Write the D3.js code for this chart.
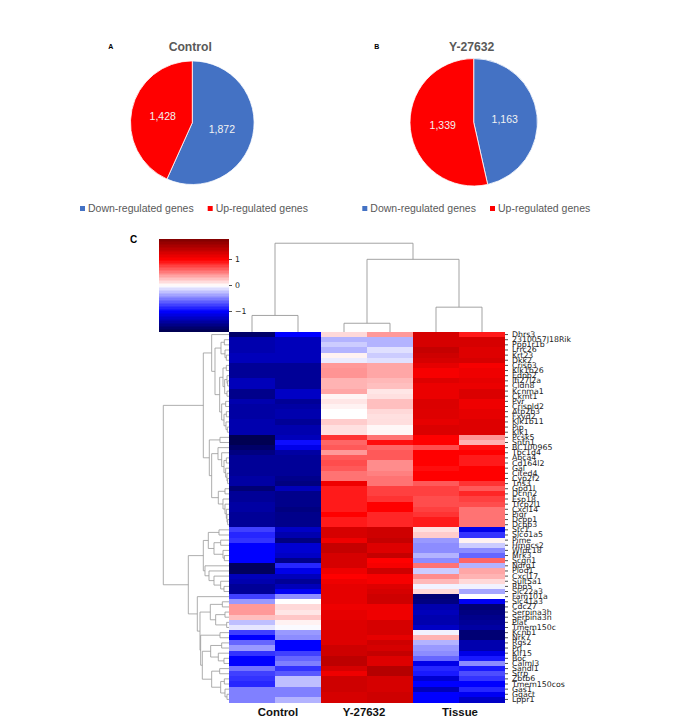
<!DOCTYPE html>
<html><head><meta charset="utf-8">
<script src="https://cdn.jsdelivr.net/npm/d3@7/dist/d3.min.js"></script>
<style>html,body{margin:0;padding:0;background:#fff}svg{display:block}</style>
</head><body><svg id="c" width="689" height="725"></svg>
<script>
const pieNames = ["Down-regulated genes", "Up-regulated genes"];
const pieColors = ["#4472C4", "#FF0000"];
const controlPie = [1872, 1428];
const y27632Pie = [1163, 1339];
const sampleLabels = ["Control", "Y-27632", "Tissue"];
const geneLabels = ["Dhrs3","2310057J18Rik","Ppp1r1b","Lrrc26","Krt23","Dkk2","Crisp3","Klk1b26","Edpb2","Ifi27l2a","Cldn8","Kcnma1","Ckmt1","Pvr","Crispld2","Atp2b3","Fxyd2","Klk1b11","Pip","Klk1","Pcsk5","Sntn1","BC100965","Tbc1d4","Abca4","Cd164l2","Gal","Cited4","Cyp2f2","Tns3","Gpd1l","Dcnn2","Esp18","Tfcp2l1","Cxcl14","Pigr","Dcpp1","Dcpp3","Stc1","Slco1a5","Pime","Hmgcs2","Wfdc18","Mrk3","Scgn1","Ndrg1","Plod1","Cxcl17","Sult5a1","Rbp5","Slc22a3","Fam101a","Slc41a3","Cdc27","Serpina3h","Serpina3n","Plat","Tmem150c","Kcnh1","Nrk7","Rgs2","Prl","Klf15","Boc","Calml3","Sandl1","Srrp","Zbtb6","Tmem150cos","Gas1","Ggact","Lppr1"];
const control1 = [-1.65,-1.35,-1.35,-1.35,-1.3,-1.3,-1.45,-1.45,-1.45,-1.3,-1.3,-1.5,-1.5,-1.35,-1.4,-1.4,-1.4,-1.35,-1.35,-1.35,-1.75,-1.75,-1.65,-1.55,-1.45,-1.45,-1.45,-1.45,-1.4,-1.4,-1.6,-1.45,-1.45,-1.4,-1.4,-1.45,-1.45,-1.45,-0.75,-0.85,-0.8,-1,-1,-1,-1,-1.7,-1.7,-1.3,-1.35,-1.45,-1.45,-0.75,-0.4,0.4,0.4,0.25,-0.25,-0.1,-0.75,-1,-0.6,-0.4,-0.8,-1,-1,-0.55,-0.75,-0.8,-0.85,-0.5,-0.5,-0.5];
const control2 = [-1,-1.3,-1.3,-1.3,-1.3,-1.3,-1.45,-1.45,-1.45,-1.45,-1.45,-1.25,-1.25,-1.45,-1.4,-1.35,-1.35,-1.45,-1.35,-1.35,-1.3,-0.95,-1.1,-1.4,-1.45,-1.45,-1.45,-1.45,-1.5,-1.55,-1.3,-1.5,-1.5,-1.5,-1.55,-1.5,-1.5,-1.5,-1.25,-1.35,-1.55,-1.2,-1.2,-1.25,-1.5,-0.85,-1.1,-1.3,-1.45,-1.3,-1.05,-0.45,0,0.15,0.1,0.22,0.05,-0.02,-0.4,-0.45,-1,-1,-0.75,-0.6,-0.5,-0.8,-0.65,-0.25,-0.25,-0.5,-0.5,-0.3];
const y276321 = [0.15,-0.3,-0.2,-0.3,0.05,-0.08,0.4,0.42,0.42,0.3,0.3,0.35,0.04,0.1,0.05,0,0,0.2,0.12,0.12,0.8,0.6,0.65,0.4,0.65,0.7,0.65,0.55,0.55,1.1,0.9,0.9,0.9,0.9,0.9,1,0.9,0.9,1.25,1.25,1.1,1.35,1.35,1.25,1.25,1.25,1.1,1,1.1,1.15,1.15,1.15,1.15,1.1,1.15,1.15,1.2,1.2,1.2,1.2,1.2,1.3,1.3,1.4,1.4,1.25,1.1,1.3,1.3,1.3,1.25,1.25];
const y276322 = [0.4,-0.3,-0.3,-0.12,-0.2,-0.12,0.35,0.35,0.35,0.28,0.25,0.1,0.12,0.25,0.25,0.15,0.12,0.13,0.03,0.03,0.55,0.95,0.6,0.65,0.65,0.45,0.45,0.5,0.55,0.55,0.75,0.75,0.8,1,1,0.85,0.85,0.85,1.3,1.3,1.35,1.2,1.2,1.35,1,1.05,1.3,1.05,1.05,1.2,1.25,1.3,1.3,1.1,1.1,1.1,1.25,1.25,1.25,1.15,1.3,1.25,1.35,1.2,1.2,1.45,1.45,1.25,1.25,1.25,1.3,1.3];
const tissue1 = [1.25,1.25,1.25,1.35,1.3,1.25,1.15,1.05,1.05,1.2,1.12,1.12,1.12,1.22,1.22,1.2,1.2,1.15,1.22,1.22,1,1,0.7,1,1,1,0.95,1,1,0.65,0.75,0.75,0.7,0.7,0.75,0.8,0.9,0.9,0.12,0.2,-0.4,-0.45,-0.45,-0.3,-0.45,0.55,-0.2,0.45,0.28,-0.05,0.15,-1.6,-1.55,-1.35,-1.3,-1.35,-1.35,-1.25,-0.05,0.3,-0.3,-0.4,-0.45,-0.6,-1.1,-0.85,-0.9,-1.2,-1,-1.3,-1,-1];
const tissue2 = [0.9,1.25,1.25,1.2,1.2,1.25,1.05,1.1,1.1,1.15,1.12,1.22,1.22,1.1,1.1,1.15,1.15,1.2,1.2,1.2,0.42,0.3,0.95,1,0.9,0.9,1,1,1,0.8,0.65,0.85,0.75,0.7,0.55,0.55,0.55,0.55,-1.1,-0.8,0.05,-0.2,-0.45,-0.6,0.6,-0.3,0.35,0.3,0.15,-0.05,-0.35,0,-1.05,-1.6,-1.55,-1.5,-1.45,-1.4,-1.6,-1.6,-1.35,-1.35,-1.1,-0.9,-0.45,-0.9,-0.7,-0.8,-1,-0.85,-1.05,-1.25];
const columns = [control1, control2, y276321, y276322, tissue1, tissue2];
const colTree = [9.65, [1.8, 0, 1], [7.9, [0.95, 2, 3], [2.7, 4, 5]]];
const rowTree = [197,
 [77,
  [52,0,[42,[24,[14,1,2],[12,3,[8,4,5]]],[28,[18,[8,6,7],[13,[6,8,[4,9,10]],[6,11,12]]],[22,[10,13,14],[15,[8,15,16],[9,17,[5,18,19]]]]]]],
  [59,[27,20,21],[52,[33,22,[22,23,[15,[8,24,25],[10,26,[6,27,[4,28,29]]]]]],[32,[12,30,31],[18,32,[12,33,[8,34,[6,35,[4,36,37]]]]]]]]
 ],
 [122,
  [77,[62,[30,38,39],[45,[25,40,41],[18,42,[14,43,44]]]],[72,45,[60,46,[45,47,[25,48,[15,49,50]]]]]],
  [95,51,[87,[56,[20,52,53],[40,[12,54,55],[7,56,57]]],[85,[27,58,59],[80,[55,[22,60,61],[32,62,[15,63,64]]],[52,[28,65,66],[25,[14,67,68],[12,69,[6,70,71]]]]]]]]
 ]
];
const colorTicks = [-1, 0, 1];

const svg = d3.select("#c");
const SANS = "'Liberation Sans', Arial, sans-serif", DJ = "'DejaVu Sans', sans-serif";

// ---- pies
function drawPie(values, title, letter, letterX, cx, cy, r, legendX) {
  const arcs = d3.pie().sort(null)(values);
  const arc = d3.arc().innerRadius(0).outerRadius(r);
  const lab = d3.arc().innerRadius(r * 0.49).outerRadius(r * 0.49);
  const g = svg.append("g").attr("transform", `translate(${cx},${cy})`);
  g.selectAll("path").data(arcs).join("path").attr("d", arc)
    .attr("fill", (d, i) => pieColors[i]).attr("stroke", "#fff").attr("stroke-width", 0.8);
  g.selectAll("text").data(arcs).join("text")
    .attr("transform", d => `translate(${lab.centroid(d)})`)
    .attr("text-anchor", "middle").attr("dy", "0.35em")
    .attr("font-family", SANS).attr("font-size", 10.5).attr("fill", "#f2f2f2")
    .text(d => d3.format(",")(d.data));
  svg.append("text").attr("x", cx - 2).attr("y", 51).attr("text-anchor", "middle")
    .attr("font-family", SANS).attr("font-weight", "bold").attr("font-size", 12.2).attr("fill", "#595959").text(title);
  svg.append("text").attr("x", letterX).attr("y", 49).attr("text-anchor", "middle")
    .attr("font-family", SANS).attr("font-weight", "bold").attr("font-size", 7).attr("fill", "#000").text(letter);
  const offs = [0, 127.7];
  pieNames.forEach((n, i) => {
    svg.append("rect").attr("x", legendX + offs[i]).attr("y", 206).attr("width", 5).attr("height", 5).attr("fill", pieColors[i]);
    svg.append("text").attr("x", legendX + offs[i] + 8).attr("y", 212)
      .attr("font-family", SANS).attr("font-size", 10.5).attr("fill", "#595959").text(n);
  });
}
drawPie(controlPie, "Control", "A", 110.7, 192.3, 122.7, 61.8, 80);
drawPie(y27632Pie, "Y-27632", "B", 376.7, 473.7, 122.3, 63.7, 362.3);

svg.append("text").attr("x", 133.5).attr("y", 243).attr("text-anchor", "middle")
  .attr("font-family", SANS).attr("font-weight", "bold").attr("font-size", 10).attr("fill", "#000").text("C");

// ---- heatmap
const x = d3.scaleBand().domain(d3.range(columns.length)).range([229, 505]);
const y = d3.scaleBand().domain(geneLabels).range([332, 702]);
const color = d3.scaleLinear()
  .domain([-1.77, -1, 0, 1, 1.77])
  .range(["#00004d", "#0000ff", "#ffffff", "#ff0000", "#800000"]);

columns.forEach((col, ci) => {
  svg.append("g").attr("shape-rendering", "crispEdges").selectAll("rect").data(col).join("rect")
    .attr("x", x(ci)).attr("y", (d, i) => y(geneLabels[i]))
    .attr("width", x.bandwidth()).attr("height", y.bandwidth() + 0.5)
    .attr("fill", d => color(d));
});

const rowAxis = svg.append("g").attr("transform", "translate(505,0)")
  .call(d3.axisRight(y).tickSize(3).tickPadding(4));
rowAxis.select(".domain").remove();
rowAxis.selectAll("text").attr("font-family", DJ).attr("font-size", 7.8).attr("fill", "#222");
rowAxis.selectAll("line").attr("stroke", "#222").attr("stroke-width", 0.8);

svg.append("g").selectAll("text").data(sampleLabels).join("text")
  .attr("x", (d, i) => [278, 364, 460][i]).attr("y", 716).attr("text-anchor", "middle")
  .attr("font-family", SANS).attr("font-weight", "bold").attr("font-size", 11.4).attr("fill", "#111").text(d => d);

// ---- dendrograms
function layoutTree(tree, leafPos) {
  const root = d3.hierarchy(tree, d => Array.isArray(d) ? d.slice(1) : null);
  root.eachAfter(n => {
    if (n.children) { n.h = n.data[0]; n.pos = d3.mean(n.children, c => c.pos); }
    else { n.h = 0; n.pos = leafPos(n.data); }
  });
  return root;
}
const colH = d3.scaleLinear().domain([0, 10]).range([332, 240]);
const colRoot = layoutTree(colTree, i => x(i) + x.bandwidth() / 2);
const colPath = d3.path();
colRoot.each(n => {
  if (!n.children) return;
  const [a, b] = n.children;
  colPath.moveTo(a.pos, colH(a.h)); colPath.lineTo(a.pos, colH(n.h));
  colPath.lineTo(b.pos, colH(n.h)); colPath.lineTo(b.pos, colH(b.h));
});
svg.append("path").attr("d", colPath.toString()).attr("fill", "none").attr("stroke", "#999").attr("stroke-width", 0.9);

const rowH = d3.scaleLinear().domain([0, 197]).range([229, 163.3]);
const rowRoot = layoutTree(rowTree, i => y(geneLabels[i]) + y.bandwidth() / 2);
const rowPath = d3.path();
rowRoot.each(n => {
  if (!n.children) return;
  const [a, b] = n.children;
  rowPath.moveTo(rowH(a.h), a.pos); rowPath.lineTo(rowH(n.h), a.pos);
  rowPath.lineTo(rowH(n.h), b.pos); rowPath.lineTo(rowH(b.h), b.pos);
});
svg.append("path").attr("d", rowPath.toString()).attr("fill", "none").attr("stroke", "#999").attr("stroke-width", 0.8);

// ---- colour bar
const cb = d3.scaleLinear().domain([-1.77, 1.77]).range([331, 239]);
const steps = d3.range(-1.77, 1.77, 3.54 / 64);
svg.append("g").attr("shape-rendering", "crispEdges").selectAll("rect").data(steps).join("rect")
  .attr("x", 159).attr("width", 70)
  .attr("y", d => cb(d + 3.54 / 64)).attr("height", cb(0) - cb(3.54 / 64) + 0.5)
  .attr("fill", d => color(d + 3.54 / 128));
const cbAxis = svg.append("g").attr("transform", "translate(229,0)")
  .call(d3.axisRight(cb).tickValues(colorTicks).tickSize(3).tickPadding(3).tickFormat(d3.format("d")));
cbAxis.select(".domain").remove();
cbAxis.selectAll("text").attr("font-family", DJ).attr("font-size", 7.8).attr("fill", "#222");
cbAxis.selectAll("line").attr("stroke", "#222").attr("stroke-width", 0.8);
</script></body></html>
